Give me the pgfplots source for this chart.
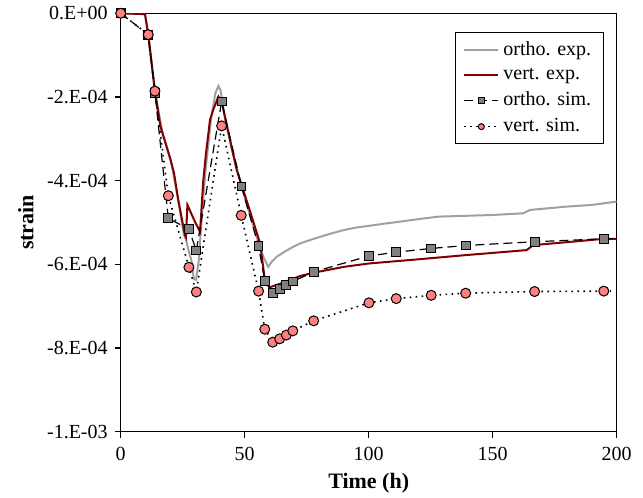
\documentclass[border=0pt]{standalone}
\usepackage{fontspec}
\setmainfont{Liberation Serif}
\usepackage{pgfplots}
\pgfplotsset{compat=1.18}
\usetikzlibrary{calc}
\definecolor{grayexp}{RGB}{160,160,160}
\definecolor{redexp}{RGB}{128,0,0}
\definecolor{sqfill}{RGB}{128,128,128}
\definecolor{cifill}{RGB}{255,128,128}
\begin{document}
\begin{tikzpicture}
\begin{axis}[
  scale only axis,
  width=248pt, height=209.2pt,
  xmin=0, xmax=200, ymin=-1e-3, ymax=0,
  xtick={0,50,100,150,200},
  ytick={-1e-3,-8e-4,-6e-4,-4e-4,-2e-4,0},
  yticklabels={{-1.E-03},{-8.E-04},{-6.E-04},{-4.E-04},{-2.E-04},{0.E+00}},
  scaled y ticks=false,
  /pgf/number format/assume math mode=true,
  tick align=outside,
  major tick length=3pt,
  xtick pos=bottom, ytick pos=left,
  axis line style={line width=0.65pt},
  every tick/.style={black, line width=0.65pt},
  tick label style={font=\fontsize{10}{12}\selectfont},
  xticklabel style={yshift=-1pt},
  xlabel={\textbf{Time (h)}},
  ylabel={\textbf{strain}},
  label style={font=\fontsize{11}{13}\selectfont},
  xlabel style={at={(axis description cs:0.5,-0.122)}, anchor=center},
  ylabel style={at={(axis description cs:-0.191,0.5)}, anchor=center, rotate=0},
  clip mode=individual,
  legend style={at={(0.974,0.955)}, anchor=north east, draw=black, line width=0.6pt,
    font=\fontsize{10}{12}\selectfont, inner xsep=4pt, inner ysep=2.5pt, row sep=0.8pt},
  legend cell align=left,
  legend image post style={mark size=1.5pt},
]
\addplot[grayexp, line width=1pt] coordinates {
(0,0)(9.8,-0.02e-4)(11.1,-0.5e-4)(13.8,-1.85e-4)(17,-2.9e-4)(20.5,-3.6e-4)(23,-4.4e-4)(25.5,-5.3e-4)(26.3,-5.4e-4)(27.5,-5.7e-4)(28.5,-5.9e-4)(29.5,-6.35e-4)(30.4,-6.37e-4)(31.5,-5.9e-4)(33,-4.6e-4)(34.5,-3.6e-4)(36.5,-2.5e-4)(38.2,-1.9e-4)(39.4,-1.74e-4)(40.3,-1.85e-4)(42,-2.5e-4)(45,-3.3e-4)(48.1,-3.99e-4)(51,-4.6e-4)(54.8,-5.34e-4)(57.5,-5.82e-4)(59.5,-6.06e-4)(61,-5.93e-4)(62.9,-5.82e-4)(66,-5.7e-4)(69.6,-5.58e-4)(72.3,-5.50e-4)(76.3,-5.42e-4)(80,-5.35e-4)(85,-5.26e-4)(90,-5.18e-4)(95,-5.12e-4)(100.1,-5.08e-4)(106,-5.03e-4)(112.6,-4.98e-4)(120,-4.92e-4)(128.1,-4.86e-4)(139.1,-4.84e-4)(150,-4.82e-4)(162.3,-4.78e-4)(165,-4.70e-4)(179.8,-4.62e-4)(190,-4.58e-4)(200,-4.50e-4)
};
\addlegendentry{ortho. exp.}
\addplot[redexp, line width=1pt] coordinates {
(0,0)(9.8,-0.02e-4)(11.1,-0.51e-4)(13.8,-1.86e-4)(16,-2.7e-4)(19.9,-3.45e-4)(21.5,-3.82e-4)(23.2,-4.46e-4)(25.9,-5.30e-4)(26.3,-5.35e-4)(26.9,-4.58e-4)(30.0,-4.99e-4)(32.0,-5.22e-4)(33.3,-4.0e-4)(34.3,-3.4e-4)(36,-2.55e-4)(37.3,-2.31e-4)(39.4,-1.99e-4)(40.7,-2.11e-4)(46.8,-3.75e-4)(52,-4.7e-4)(56.2,-5.5e-4)(58.2,-6.4e-4)(60,-6.55e-4)(65,-6.45e-4)(72.3,-6.28e-4)(77.8,-6.2e-4)(90,-6.06e-4)(100,-5.98e-4)(120,-5.88e-4)(139,-5.78e-4)(163.7,-5.66e-4)(166.4,-5.54e-4)(180,-5.47e-4)(194.8,-5.39e-4)(200,-5.39e-4)
};
\addlegendentry{vert. exp.}
\addplot[black, line width=0.6pt, dash pattern=on 4.5pt off 2.5pt, forget plot] coordinates {(194.8,-5.39e-4)(200,-5.39e-4)};
\addplot[black, line width=0.6pt, dash pattern=on 4.5pt off 2.5pt,
  mark=square*, mark size=2.2pt, mark options={solid, fill=sqfill, draw=black, line width=0.5pt}] coordinates {
(0,0)(11.1,-0.51e-4)(13.8,-1.9e-4)(19.2,-4.90e-4)(27.5,-5.16e-4)(30.5,-5.67e-4)(40.7,-2.11e-4)(48.7,-4.14e-4)(55.6,-5.57e-4)(58.1,-6.39e-4)(61.3,-6.68e-4)(64.1,-6.58e-4)(66.8,-6.49e-4)(69.4,-6.41e-4)(77.8,-6.18e-4)(100.1,-5.80e-4)(111.1,-5.71e-4)(125.2,-5.62e-4)(139.1,-5.55e-4)(166.9,-5.46e-4)(194.8,-5.39e-4)
};
\addlegendentry{ortho. sim.}
\addplot[black, line width=0.8pt, dash pattern=on 0.8pt off 2.2pt, forget plot] coordinates {(194.8,-6.64e-4)(200,-6.64e-4)};
\addplot[black, line width=0.8pt, dash pattern=on 0.8pt off 2.2pt,
  mark=*, mark size=2.5pt, mark options={solid, fill=cifill, draw=black, line width=0.5pt}] coordinates {
(0,0)(11.1,-0.51e-4)(13.8,-1.86e-4)(19.2,-4.36e-4)(27.5,-6.07e-4)(30.5,-6.66e-4)(40.7,-2.69e-4)(48.6,-4.83e-4)(55.6,-6.64e-4)(58.1,-7.55e-4)(61.3,-7.86e-4)(64.1,-7.78e-4)(66.8,-7.69e-4)(69.4,-7.59e-4)(77.8,-7.35e-4)(100.1,-6.92e-4)(111.1,-6.82e-4)(125.2,-6.74e-4)(139.1,-6.69e-4)(166.9,-6.65e-4)(194.8,-6.64e-4)
};
\addlegendentry{vert. sim.}
\end{axis}
\coordinate (A) at ($(current axis.south west)+(-60.35pt,-33.15pt)$);
\coordinate (B) at ($(current axis.north east)+(13.15pt,6.65pt)$);
\pgfresetboundingbox
\path[use as bounding box] (A) rectangle (B);
\end{tikzpicture}
\end{document}
